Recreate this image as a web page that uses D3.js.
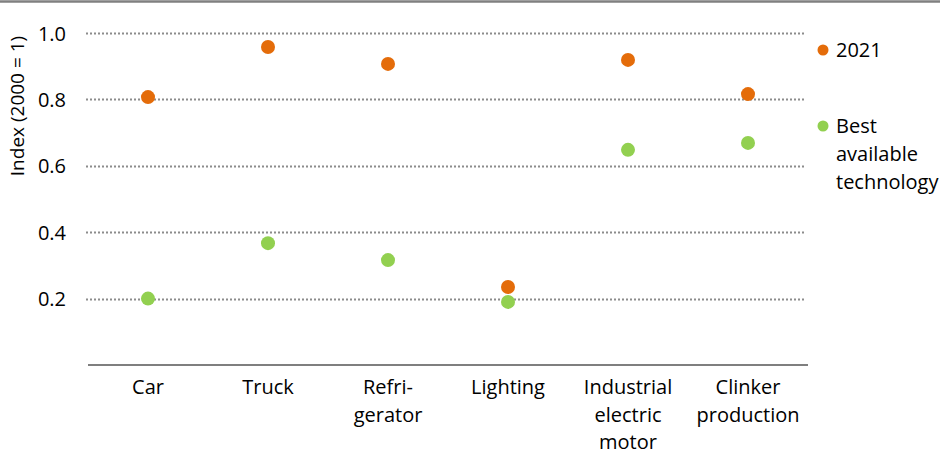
<!DOCTYPE html>
<html>
<head>
<meta charset="utf-8">
<script src="https://cdn.jsdelivr.net/npm/d3@7"></script>
<style>
  html, body { margin: 0; padding: 0; background: #fff; }
  svg { display: block; font-family: "Open Sans", sans-serif; }
</style>
</head>
<body>
<svg id="chart" width="940" height="457"></svg>
<script>
// Efficiency index by end use, 2000 = 1
const categories = [
  ["Car"],
  ["Truck"],
  ["Refri-", "gerator"],
  ["Lighting"],
  ["Industrial", "electric", "motor"],
  ["Clinker", "production"]
];
const values2021 = [0.807, 0.958, 0.907, 0.235, 0.919, 0.816];
const valuesBAT  = [0.200, 0.367, 0.316, 0.190, 0.648, 0.669];
const yTicks = [0.2, 0.4, 0.6, 0.8, 1.0];
const seriesNames = ["2021", ["Best", "available", "technology"]];
const colors = ["#E46C0A", "#92D050"];

const svg = d3.select("#chart");
const plot = { left: 88, right: 808, top: 33, bottom: 365 };

const x = d3.scaleBand()
  .domain(d3.range(categories.length))
  .range([plot.left, plot.right]);

const y = d3.scaleLinear()
  .domain([0, 1])
  .range([plot.bottom, plot.top]);

// top rule
svg.append("line")
  .attr("x1", 0).attr("x2", 940)
  .attr("y1", 1.5).attr("y2", 1.5)
  .attr("stroke", "#808080").attr("stroke-width", 2.5);

// dotted gridlines
svg.append("g").selectAll("line")
  .data(yTicks)
  .join("line")
  .attr("x1", 86).attr("x2", 806)
  .attr("y1", d => Math.round(y(d)) + 0.5)
  .attr("y2", d => Math.round(y(d)) + 0.5)
  .attr("stroke", "#8c8c8c")
  .attr("stroke-width", 2)
  .attr("stroke-dasharray", "2,2");

// y tick labels
const yAxis = d3.axisLeft(y).tickValues(yTicks).tickFormat(d3.format(".1f")).tickSize(0).tickPadding(0);
const gy = svg.append("g").attr("transform", "translate(66,0)").call(yAxis);
gy.select(".domain").remove();
gy.selectAll("text")
  .attr("font-size", 20)
  .attr("fill", "#000")
  .attr("font-family", "'Open Sans', sans-serif")
  .attr("dy", "0.35em");

// y axis title
svg.append("text")
  .attr("transform", "translate(24,106) rotate(-90)")
  .attr("text-anchor", "middle")
  .attr("font-size", 19)
  .attr("fill", "#000")
  .text("Index (2000 = 1)");

// x axis baseline
svg.append("line")
  .attr("x1", plot.left).attr("x2", plot.right)
  .attr("y1", y(0)).attr("y2", y(0))
  .attr("stroke", "#000").attr("stroke-width", 1.2);

// category labels
const xl = svg.append("g").selectAll("text")
  .data(categories)
  .join("text")
  .attr("x", (d, i) => x(i) + x.bandwidth() / 2)
  .attr("y", 394)
  .attr("text-anchor", "middle")
  .attr("font-size", 20)
  .attr("fill", "#000");
xl.selectAll("tspan")
  .data(d => d)
  .join("tspan")
  .attr("x", function () { return d3.select(this.parentNode).attr("x"); })
  .attr("dy", (d, i) => i === 0 ? 0 : 27.5)
  .text(d => d);

// points
const series = [values2021, valuesBAT];
series.forEach((vals, s) => {
  svg.append("g").selectAll("circle")
    .data(vals)
    .join("circle")
    .attr("cx", (d, i) => x(i) + x.bandwidth() / 2)
    .attr("cy", d => y(d))
    .attr("r", 7)
    .attr("fill", colors[s]);
});

// legend
const legendY = [50, 126];
seriesNames.forEach((name, s) => {
  svg.append("circle")
    .attr("cx", 823).attr("cy", legendY[s]).attr("r", 5.5)
    .attr("fill", colors[s]);
  const lines = Array.isArray(name) ? name : [name];
  const t = svg.append("text")
    .attr("x", 836).attr("y", legendY[s])
    .attr("font-size", 20)
    .attr("fill", "#000");
  t.selectAll("tspan")
    .data(lines)
    .join("tspan")
    .attr("x", 836)
    .attr("dy", (d, i) => i === 0 ? "0.35em" : 28)
    .text(d => d);
});
</script>
</body>
</html>
